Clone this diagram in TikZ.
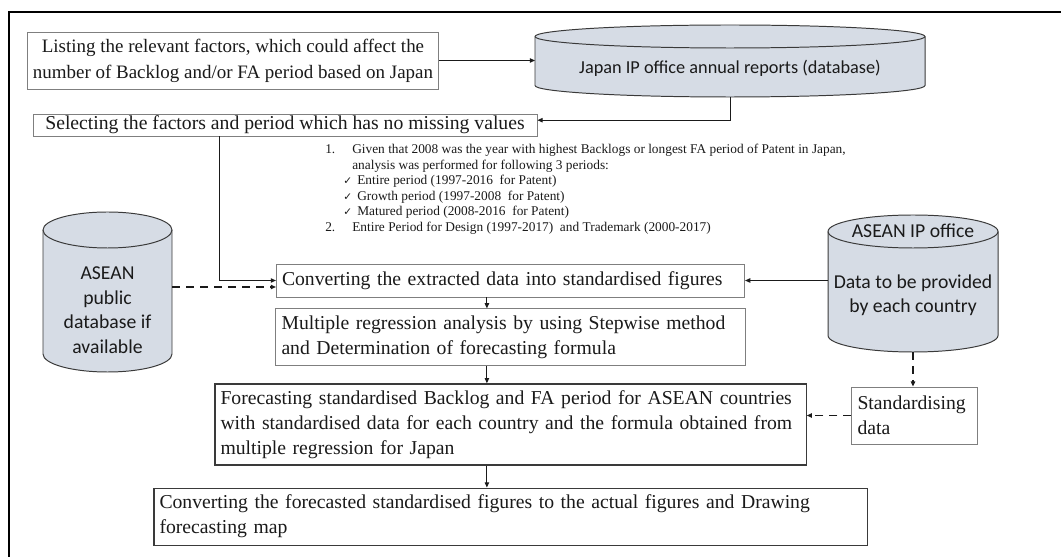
\documentclass[tikz,border=0pt]{standalone}
\usepackage{fontspec}
\setmainfont{Liberation Serif}
\newfontfamily\dbfont{Carlito}
\newfontfamily\tickfont{DejaVu Sans}
\usetikzlibrary{arrows.meta,calc,positioning,backgrounds}
\definecolor{ink}{HTML}{1A1A1A}
\definecolor{edge}{HTML}{7F7F7F}
\definecolor{deep}{HTML}{3A3A3A}
\definecolor{dbfill}{HTML}{D6DCE5}
\newcommand{\chk}{{\tickfont\fontsize{7.5}{9}\selectfont ✓}}
% cylinder drawn behind a named node: node, x radius, y radius
\newcommand{\dbshape}[3]{%
  \begin{scope}[on background layer]
    \draw[dbline] ([yshift=-#3]#1.north west) -- ([yshift=#3]#1.south west)
      arc[start angle=180,end angle=360,x radius=#2,y radius=#3]
      -- ([yshift=-#3]#1.north east)
      arc[start angle=0,end angle=180,x radius=#2,y radius=#3] -- cycle;
    \draw[dbline,fill=none] ([yshift=-#3]#1.north west)
      arc[start angle=180,end angle=360,x radius=#2,y radius=#3];
  \end{scope}}
\tikzset{
  basebox/.style={draw=edge,fill=white,line width=0.6pt,inner xsep=4pt,inner ysep=1.5pt,text=ink,font=\fontsize{14}{17.8}\selectfont},
  darkbox/.style={basebox,draw=deep,line width=0.9pt},
  dbase/.style={inner sep=0pt,outer sep=0pt,align=center,text=ink},
  dbline/.style={draw=deep,fill=dbfill,line width=0.7pt},
  arrow/.style={-{Triangle[length=1.3mm,width=1.1mm]},line width=0.7pt,draw=ink},
  dasharrow/.style={arrow,dash pattern=on 2mm off 1.5mm,line width=0.9pt},
  frame/.style={line width=1.1pt,draw=black}
}

\begin{document}
\begin{tikzpicture}
  \useasboundingbox (0,0) rectangle (26.525,-13.925);
  \draw[frame] (0.225,-13.925) |- (26.525,-0.3);

  % Japan side
  \node[basebox,align=center,minimum width=10cm,minimum height=1.425cm,font=\fontsize{13.5}{18.5}\selectfont] (list) at (5.825,-1.5125)
    {Listing the relevant factors, which could affect the\\number of Backlog and/or FA period based on Japan};
  \node[dbase,minimum width=9.75cm,minimum height=1.8cm,font=\dbfont\fontsize{13}{16}\selectfont] (jp) at (18.25,-1.525)
    {\rule{0pt}{0.69cm}Japan IP office annual reports (database)};
  \dbshape{jp}{4.875cm}{0.2875cm}
  \node[basebox,minimum width=12.6cm,minimum height=0.55cm,inner ysep=0.5pt] (sel) at (7.125,-3.125)
    {Selecting the factors and period which has no missing values};

  \node[anchor=north west,inner sep=0pt,align=left,text=ink,font=\fontsize{9.5}{11}\selectfont] (note) at (8.125,-3.6)
    {\makebox[0.675cm][l]{1.}Given that 2008 was the year with highest Backlogs or longest FA period of Patent in Japan,\\
     \hspace*{0.675cm}analysis was performed for following 3 periods:\\
     \hspace*{0.45cm}\makebox[0.35cm][l]{\chk}Entire period (1997-2016\ \ for Patent)\\
     \hspace*{0.45cm}\makebox[0.35cm][l]{\chk}Growth period (1997-2008\ \ for Patent)\\
     \hspace*{0.45cm}\makebox[0.35cm][l]{\chk}Matured period (2008-2016\ \ for Patent)\\
     \makebox[0.675cm][l]{2.}Entire Period for Design (1997-2017)\ \ and Trademark (2000-2017)};

  % ASEAN side
  \node[dbase,minimum width=3.225cm,minimum height=4cm,font=\dbfont\fontsize{14}{17.5}\selectfont] (pub) at (2.6875,-7.3)
    {\rule{0pt}{1.22cm}ASEAN\\public\\database if\\available};
  \dbshape{pub}{1.6125cm}{0.45cm}
  \node[dbase,minimum width=4.25cm,minimum height=3.425cm,font=\dbfont\fontsize{14}{17.5}\selectfont] (aip) at (22.825,-7.0875)
    {ASEAN IP office\\[0.635cm]Data to be provided\\by each country\rule[-0.75cm]{0pt}{0.75cm}};
  \dbshape{aip}{2.125cm}{0.4125cm}

  \node[basebox,align=left,text width=11.425cm,minimum height=0.825cm] (conv) at (12.7625,-7.0125)
    {Converting the extracted data into standardised figures};
  \node[basebox,align=left,text width=11.45cm,minimum height=1.425cm,below=0.275cm of conv] (multi)
    {Multiple regression analysis by using Stepwise method\\and Determination of forecasting formula};
  \node[darkbox,align=left,text width=14.5cm,minimum height=2.025cm,below=0.425cm of multi] (fc)
    {Forecasting standardised Backlog and FA period for ASEAN countries\\with standardised data for each country and the formula obtained from\\multiple regression for Japan};
  \node[basebox,align=left,text width=2.85cm,minimum height=1.425cm] (stand) at (22.8625,-10.3875)
    {Standardising\\data};
  \node[darkbox,align=left,text width=17.55cm,minimum height=1.425cm,below=0.55cm of fc] (final)
    {Converting the forecasted standardised figures to the actual figures and Drawing\\forecasting map};

  \draw[arrow] (list.east) -- (list.east -| jp.west);
  \draw[arrow] (jp.south) |- ([yshift=0.12cm]sel.east);
  \draw[arrow] ($(sel.south west)!0.37!(sel.south east)$) |- (conv.west);
  \draw[dasharrow] ([yshift=0.125cm]pub.east) -- ([yshift=0.125cm]pub.east -| conv.west);
  \draw[arrow] (aip.west |- conv.east) -- (conv.east);
  \draw[arrow] ([xshift=-5.9mm]conv.south) -- ([xshift=-5.9mm]multi.north);
  \draw[arrow] ([xshift=-5.9mm]multi.south) -- ([xshift=-5.9mm]fc.north);
  \draw[arrow] ([xshift=-5.9mm]fc.south) -- ([xshift=-5.9mm]final.north);
  \draw[dasharrow] (aip.south) -- (aip.south |- stand.north);
  \draw[dasharrow] (stand.west) -- (stand.west -| fc.east);
\end{tikzpicture}
\end{document}
